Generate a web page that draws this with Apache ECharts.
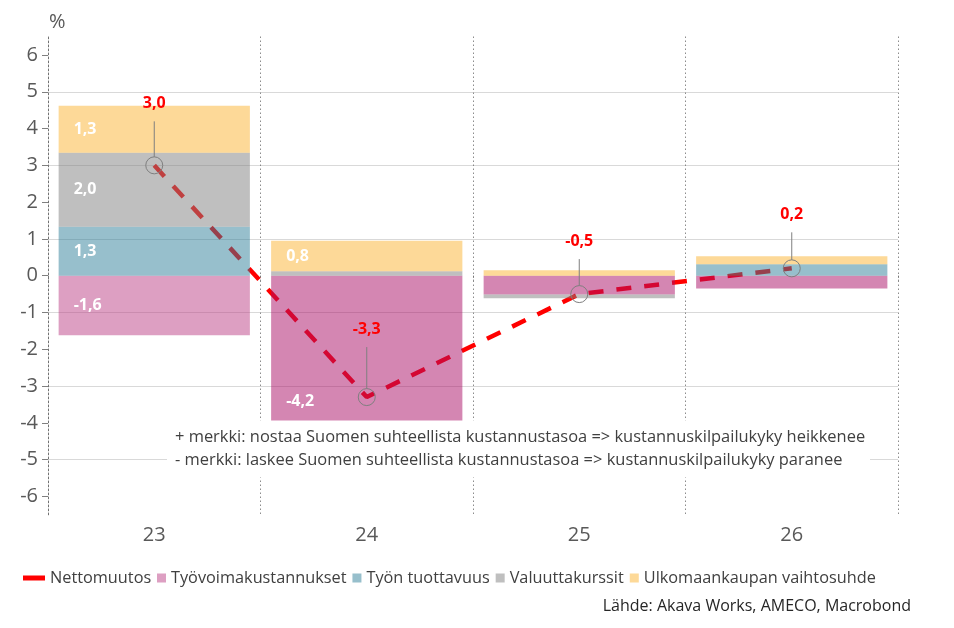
<!DOCTYPE html>
<html>
<head>
<meta charset="utf-8">
<script src="https://cdn.jsdelivr.net/npm/echarts@6/dist/echarts.min.js"></script>
<style>
html,body{margin:0;padding:0;background:#fff;}
#chart{width:954px;height:628px;}
</style>
</head>
<body>
<div id="chart"></div>
<script>
const categories = ['23', '24', '25', '26'];
const labourCosts = [-1.62, -4.2, -0.51, -0.35];      // Työvoimakustannukset
const productivity = [1.33, 0, 0, 0.31];              // Työn tuottavuus
const exchangeRates = [2.01, 0.12, -0.1, 0];           // Valuuttakurssit
const termsOfTrade = [1.28, 0.83, 0.15, 0.22];         // Ulkomaankaupan vaihtosuhde
const netChange = [3.0, -3.3, -0.5, 0.2];              // Nettomuutos
const yTicks = [-6, -5, -4, -3, -2, -1, 0, 1, 2, 3, 4, 5, 6];

// styling (not data)
const labelLift = [62, 68, 53, 54];
const FONT = '"Open Sans", "Noto Sans", sans-serif';
const TXT = '#595959';
const DOT = [1.2, 2.8];

const fmt = v => (Math.round(v * 10) / 10).toFixed(1).replace('.', ',');

function barData(arr, colorFn) {
  return arr.map((v, i) => {
    const o = { value: v };
    if (colorFn) o.itemStyle = { color: colorFn(i) };
    if (Math.abs(v) >= 0.7) {
      o.label = { show: true };
      if (v < -3) o.label.offset = [0, 48];
    }
    return o;
  });
}

const barLabel = {
  show: false,
  position: 'insideLeft',
  distance: 15,
  color: '#ffffff',
  fontWeight: 'bold',
  fontSize: 16,
  fontFamily: FONT,
  formatter: p => fmt(p.value)
};

const chart = echarts.init(document.getElementById('chart'), null, { renderer: 'canvas' });

const option = {
  backgroundColor: '#ffffff',
  animation: false,
  grid: { left: 48, right: 56, top: 36.6, bottom: 113.2, containLabel: false },
  xAxis: {
    type: 'category',
    data: categories,
    axisLine: { show: false },
    axisTick: { show: true, interval: 0, length: 5, lineStyle: { color: '#6f6f6f', type: DOT } },
    axisLabel: { color: TXT, fontSize: 20, fontFamily: FONT, margin: 10 },
    splitLine: { show: true, interval: 0, lineStyle: { color: '#6f6f6f', type: DOT, width: 1 } }
  },
  yAxis: {
    type: 'value',
    min: -6.5,
    max: 6.5,
    interval: 0.5,
    name: '%',
    nameLocation: 'end',
    nameGap: 4,
    nameTextStyle: { color: TXT, fontSize: 20, fontFamily: FONT, align: 'left', padding: [0, 0, 0, 1] },
    axisLine: { show: true, lineStyle: { color: '#6f6f6f', type: DOT } },
    axisTick: { show: true, length: 6, customValues: yTicks, lineStyle: { color: '#7f7f7f' } },
    axisLabel: {
      color: TXT, fontSize: 20, fontFamily: FONT, margin: 10,
      customValues: yTicks,
      formatter: v => (Number.isInteger(v) ? String(v) : '')
    },
    splitLine: { show: true, lineStyle: { color: ['rgba(0,0,0,0)', '#d9d9d9'], width: 1 } }
  },
  legend: [
    {
      data: [{ name: 'Nettomuutos', icon: 'rect' }],
      left: 18, top: 565,
      itemWidth: 22, itemHeight: 5, itemGap: 0,
      textStyle: { color: '#404040', fontSize: 16.3, fontFamily: FONT }
    },
    {
      data: [
        { name: 'Työvoimakustannukset', icon: 'rect' },
        { name: 'Työn tuottavuus', icon: 'rect' },
        { name: 'Valuuttakurssit', icon: 'rect' },
        { name: 'Ulkomaankaupan vaihtosuhde', icon: 'rect' }
      ],
      left: 152, top: 565,
      itemWidth: 9, itemHeight: 9, itemGap: 6,
      textStyle: { color: '#404040', fontSize: 16.3, fontFamily: FONT }
    }
  ],
  series: [
    {
      name: 'Nettomuutos',
      type: 'line',
      data: netChange,
      z: 1,
      symbol: 'none',
      color: '#ff0000',
      lineStyle: { color: '#ff0000', width: 4.5, type: [15, 13] }
    },
    {
      name: 'Työvoimakustannukset',
      type: 'bar', stack: 'total', z: 3,
      barCategoryGap: '10%',
      color: 'rgba(187,63,133,0.5)',
      data: barData(labourCosts, i => (i === 0 ? 'rgba(187,63,133,0.5)' : 'rgba(169,13,101,0.5)')),
      label: barLabel
    },
    {
      name: 'Työn tuottavuus',
      type: 'bar', stack: 'total', z: 3,
      color: 'rgba(47,127,153,0.5)',
      data: barData(productivity),
      label: barLabel
    },
    {
      name: 'Valuuttakurssit',
      type: 'bar', stack: 'total', z: 3,
      color: 'rgba(127,127,127,0.5)',
      data: barData(exchangeRates),
      label: barLabel
    },
    {
      name: 'Ulkomaankaupan vaihtosuhde',
      type: 'bar', stack: 'total', z: 3,
      color: 'rgba(251,179,49,0.5)',
      data: barData(termsOfTrade),
      label: barLabel
    },
    {
      name: 'netMarkers',
      type: 'custom',
      z: 6,
      data: netChange.map((v, i) => [i, v]),
      renderItem: (params, api) => {
        const p = api.coord([api.value(0), api.value(1)]);
        const lift = labelLift[params.dataIndex];
        return {
          type: 'group',
          children: [
            { type: 'circle', shape: { cx: p[0], cy: p[1], r: 8.5 }, style: { fill: 'none', stroke: '#7f7f7f', lineWidth: 1 } },
            { type: 'line', shape: { x1: p[0], y1: p[1] - 8.5, x2: p[0], y2: p[1] - lift + 18 }, style: { stroke: '#7f7f7f', lineWidth: 1 } },
            { type: 'text', style: { text: fmt(api.value(1)), x: p[0], y: p[1] - lift, align: 'center', verticalAlign: 'middle', fill: '#ff0000', fontSize: 16, fontWeight: 'bold', fontFamily: FONT } }
          ]
        };
      }
    }
  ],
  graphic: [
    { type: 'rect', z: 100, shape: { x: 167, y: 420.5, width: 703, height: 57 }, style: { fill: '#ffffff' } },
    { type: 'text', z: 101, style: { text: '+ merkki: nostaa Suomen suhteellista kustannustasoa => kustannuskilpailukyky heikkenee', x: 175, y: 437, verticalAlign: 'middle', fill: '#404040', fontSize: 16.45, fontFamily: FONT } },
    { type: 'text', z: 101, style: { text: '- merkki: laskee Suomen suhteellista kustannustasoa => kustannuskilpailukyky paranee', x: 175, y: 460, verticalAlign: 'middle', fill: '#404040', fontSize: 16.45, fontFamily: FONT } },
    { type: 'text', z: 101, style: { text: 'Lähde: Akava Works, AMECO, Macrobond', x: 911, y: 606, align: 'right', verticalAlign: 'middle', fill: '#262626', fontSize: 16, fontFamily: FONT } }
  ]
};

chart.setOption(option);
</script>
</body>
</html>
